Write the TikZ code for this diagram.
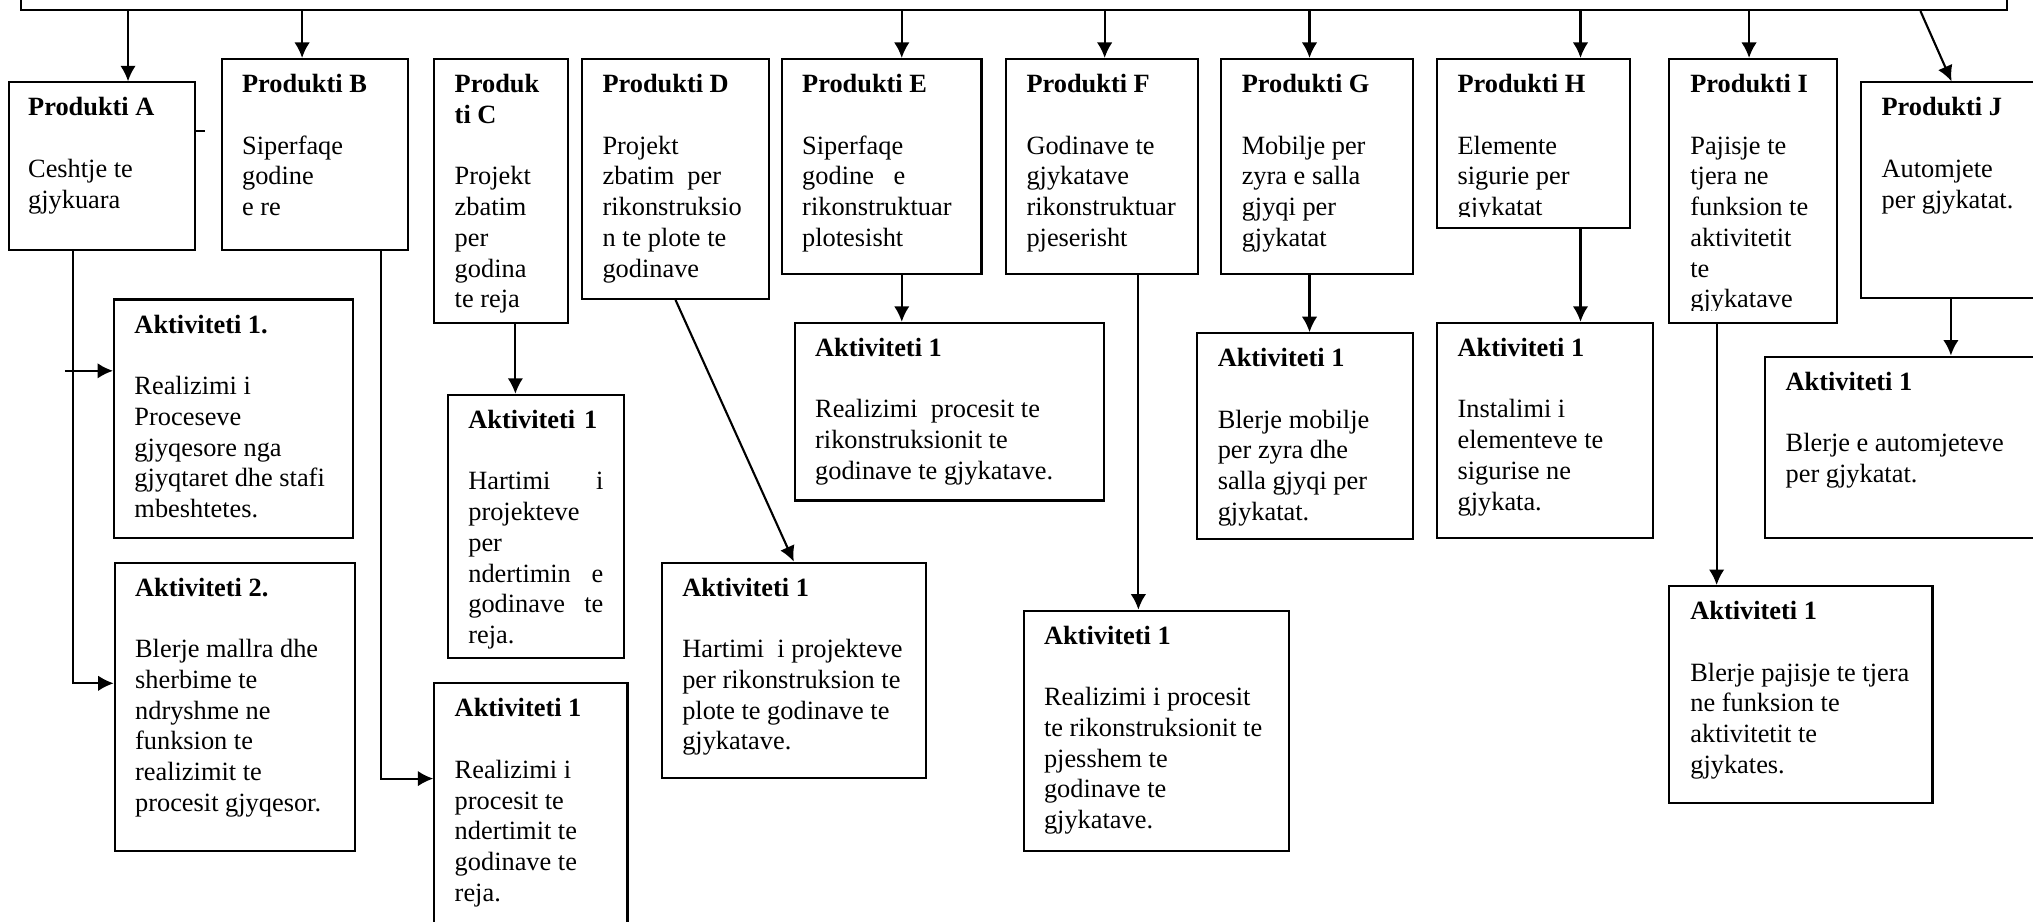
\documentclass[tikz,border=0pt]{standalone}
\usepackage{fontspec}
\setmainfont{Liberation Serif}
\usetikzlibrary{arrows.meta,fit}

\tikzset{
	box/.style={draw, line width=0.6pt, inner sep=0pt},
	txt/.style={anchor=north west, inner sep=0pt, align=left, font=\fontsize{7.5}{8.75}\selectfont},
	arr/.style={line width=0.6pt, -{Latex[length=1.55mm,width=1.55mm]}},
	conn/.style={line width=0.6pt}
}

\begin{document}
\begin{tikzpicture}[x=0.12966mm, y=-0.12966mm]
	\useasboundingbox (0,0) rectangle (1568,711);
	
	% top box, cut by the page
	\node[box, fit={(16,-80) (1548,7.7)}] (top) {};
	
	% products
	\node[box, fit={(7,63.5) (150.5,193)}] (pa) {};
	\node[box, fit={(171,45.5) (315,193)}] (pb) {};
	\node[box, fit={(335,45.5) (438,249)}] (pc) {};
	\node[box, fit={(449,45.5) (593,230.5)}] (pd) {};
	\node[box, fit={(603,45.5) (757,211.5)}] (pe) {};
	\node[box, fit={(776,45.5) (924,211.5)}] (pf) {};
	\node[box, fit={(942,45.5) (1090,211.5)}] (pg) {};
	\node[box, fit={(1108.5,45.5) (1257,175.5)}] (ph) {};
	\node[box, fit={(1287,45.5) (1417,249)}] (pi) {};
	\node[box, fit={(1435.5,63.5) (1620,230)}] (pj) {};
	
	\node[txt] (pa-t) at ([shift={(15,12)}]pa.north west) {\textbf{Produkti A}\\[8.75pt]Ceshtje te\\gjykuara};
	\node[txt] (pb-t) at ([shift={(16,12)}]pb.north west) {\textbf{Produkti B}\\[8.75pt]Siperfaqe\\godine\\e re};
	\node[txt] (pc-t) at ([shift={(16,12)}]pc.north west) {\textbf{Produk}\\\textbf{ti C}\\[8.75pt]Projekt\\zbatim\\per\\godina\\te reja};
	\node[txt] (pd-t) at ([shift={(16,12)}]pd.north west) {\textbf{Produkti D}\\[8.75pt]Projekt\\zbatim\ \ per\\rikonstruksio\\n te plote te\\godinave};
	\node[txt] (pe-t) at ([shift={(16,12)}]pe.north west) {\textbf{Produkti E}\\[8.75pt]Siperfaqe\\godine\ \ \ e\\rikonstruktuar\\plotesisht};
	\node[txt] (pf-t) at ([shift={(16,12)}]pf.north west) {\textbf{Produkti F}\\[8.75pt]Godinave te\\gjykatave\\rikonstruktuar\\pjeserisht};
	\node[txt] (pg-t) at ([shift={(16,12)}]pg.north west) {\textbf{Produkti G}\\[8.75pt]Mobilje per\\zyra e salla\\gjyqi per\\gjykatat};
	\begin{scope}
		\clip (ph.north west) rectangle ([shift={(0,-9.5)}]ph.south east);
		\node[txt] (ph-t) at ([shift={(16,12)}]ph.north west) {\textbf{Produkti H}\\[8.75pt]Elemente\\sigurie per\\gjykatat};
	\end{scope}
	\begin{scope}
		\clip (pi.north west) rectangle ([shift={(0,-10.5)}]pi.south east);
		\node[txt] (pi-t) at ([shift={(17,12)}]pi.north west) {\textbf{Produkti I}\\[8.75pt]Pajisje te\\tjera ne\\funksion te\\aktivitetit\\te\\gjykatave};
	\end{scope}
	\node[txt] (pj-t) at ([shift={(16,12)}]pj.north west) {\textbf{Produkti J}\\[8.75pt]Automjete\\per gjykatat.};
	
	% activities
	\node[box, fit={(88,231) (272.5,415)}] (a1) {};
	\node[box, fit={(88.5,434) (274,656)}] (a2) {};
	\node[box, fit={(345.5,304.5) (481,507.5)}] (ca) {};
	\node[box, fit={(335,527) (484,760)}] (ba) {};
	\node[box, fit={(510.5,434) (714,600)}] (da) {};
	\node[box, fit={(613,249) (851.5,386)}] (ea) {};
	\node[box, fit={(789.5,471) (994,656)}] (fa) {};
	\node[box, fit={(923.5,257) (1090,416)}] (ga) {};
	\node[box, fit={(1108.5,249) (1275,415)}] (ha) {};
	\node[box, fit={(1287,452) (1490.5,619)}] (ia) {};
	\node[box, fit={(1361.5,275) (1620,415)}] (ja) {};
	
	\node[txt] (a1-t) at ([shift={(16,12)}]a1.north west) {\textbf{Aktiviteti 1.}\\[8.75pt]Realizimi i\\Proceseve\\gjyqesore nga\\gjyqtaret dhe stafi\\mbeshtetes.};
	\node[txt] (a2-t) at ([shift={(16,12)}]a2.north west) {\textbf{Aktiviteti 2.}\\[8.75pt]Blerje mallra dhe\\sherbime te\\ndryshme ne\\funksion te\\realizimit te\\procesit gjyqesor.};
	\node[txt, text width=13.5mm] (ca-t) at ([shift={(16,12)}]ca.north west) {\mbox{\textbf{Aktiviteti 1}}\\[8.75pt]Hartimi\hfill i\\projekteve\\per\\ndertimin\hfill e\\godinave\hfill te\\reja.};
	\node[txt] (ba-t) at ([shift={(16,12)}]ba.north west) {\textbf{Aktiviteti 1}\\[8.75pt]Realizimi i\\procesit te\\ndertimit te\\godinave te\\reja.};
	\node[txt] (da-t) at ([shift={(16,12)}]da.north west) {\textbf{Aktiviteti 1}\\[8.75pt]Hartimi\ \ i projekteve\\per rikonstruksion te\\plote te godinave te\\gjykatave.};
	\node[txt] (ea-t) at ([shift={(16,12)}]ea.north west) {\textbf{Aktiviteti 1}\\[8.75pt]Realizimi\ \ procesit te\\rikonstruksionit te\\godinave te gjykatave.};
	\node[txt] (fa-t) at ([shift={(16,12)}]fa.north west) {\textbf{Aktiviteti 1}\\[8.75pt]Realizimi i procesit\\te rikonstruksionit te\\pjesshem te\\godinave te\\gjykatave.};
	\node[txt] (ga-t) at ([shift={(16,12)}]ga.north west) {\textbf{Aktiviteti 1}\\[8.75pt]Blerje mobilje\\per zyra dhe\\salla gjyqi per\\gjykatat.};
	\node[txt] (ha-t) at ([shift={(16,12)}]ha.north west) {\textbf{Aktiviteti 1}\\[8.75pt]Instalimi i\\elementeve te\\sigurise ne\\gjykata.};
	\node[txt] (ia-t) at ([shift={(17,12)}]ia.north west) {\textbf{Aktiviteti 1}\\[8.75pt]Blerje pajisje te tjera\\ne funksion te\\aktivitetit te\\gjykates.};
	\node[txt] (ja-t) at ([shift={(16,12)}]ja.north west) {\textbf{Aktiviteti 1}\\[8.75pt]Blerje e automjeteve\\per gjykatat.};
	
	% arrows from the top box
	\coordinate (pa-in) at ([shift={(20,0)}]pa.north);
	\coordinate (pb-in) at ([shift={(-10,0)}]pb.north);
	\coordinate (pe-in) at ([shift={(15.5,0)}]pe.north);
	\coordinate (pf-in) at ([shift={(2,0)}]pf.north);
	\coordinate (pg-in) at ([shift={(-6,0)}]pg.north);
	\coordinate (ph-in) at ([shift={(36.25,0)}]ph.north);
	\coordinate (pi-in) at ([shift={(-3,0)}]pi.north);
	\foreach \n in {pa,pb,pe,pf,pg,ph,pi}
		\draw[arr] (top.south -| \n-in) -- (\n-in);
	\coordinate (pj-top) at (top.south -| pj.north west);
	\draw[arr] ([shift={(46.5,0)}]pj-top) -- ([shift={(70.5,0)}]pj.north west);
	
	% small stub right of Produkti A
	\draw[conn] ([shift={(0,-27.5)}]pa.east) -- ++(6.5,0);
	
	% arrows to the activities
	\coordinate (aj) at (50,286);
	\draw[arr] (aj) -- (a1.west |- aj);
	\draw[arr] ([shift={(-22.75,0)}]pa.south) |- ([shift={(0,-18)}]a2.west);
	\draw[arr] ([shift={(51,0)}]pb.south) |- ([shift={(0,-43)}]ba.west);
	\draw[arr] ([shift={(11,0)}]pc.south) coordinate (c-out) -- (ca.north -| c-out);
	\draw[arr] (pd.south) -- (da.north);
	\draw[arr] ([shift={(15.5,0)}]pe.south) coordinate (e-out) -- (ea.north -| e-out);
	\draw[arr] ([shift={(28,0)}]pf.south) coordinate (f-out) -- (fa.north -| f-out);
	\draw[arr] ([shift={(-6,0)}]pg.south) coordinate (g-out) -- (ga.north -| g-out);
	\draw[arr] ([shift={(36.25,0)}]ph.south) coordinate (h-out) -- (ha.north -| h-out);
	\draw[arr] ([shift={(-28,0)}]pi.south) coordinate (i-out) -- (ia.north -| i-out);
	\draw[arr] ([shift={(70,0)}]pj.south west) coordinate (j-out) -- (ja.north -| j-out);
\end{tikzpicture}
\end{document}
